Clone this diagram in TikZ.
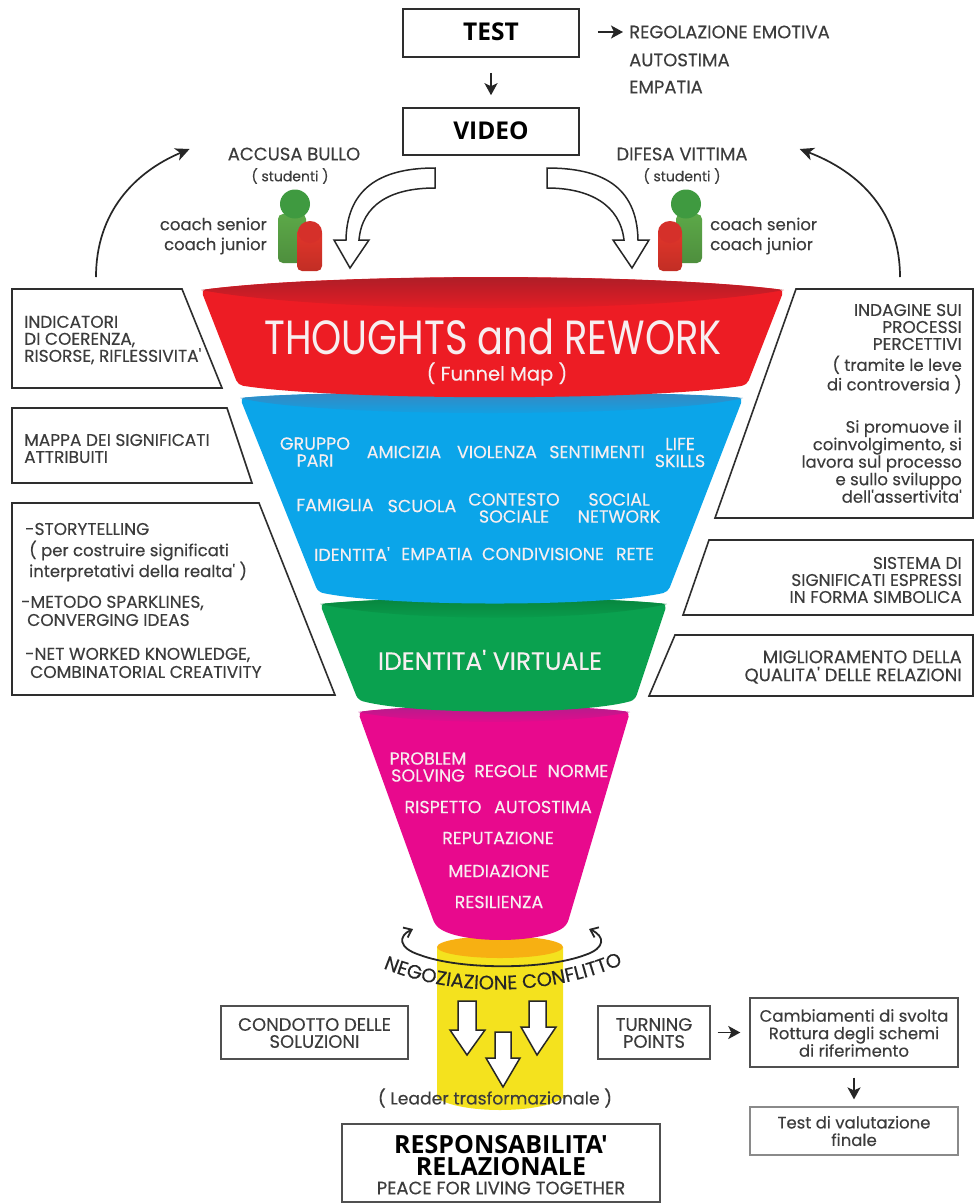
\documentclass[tikz,border=0pt]{standalone}
\usepackage{fontspec}
\usetikzlibrary{arrows.meta,decorations.text}
\setmainfont{Poppins}
\newfontfamily\nf[FakeBold=0.25]{Poppins}
\newfontfamily\cond[FakeStretch=0.8]{Poppins}
\newfontfamily\boldf{Open Sans}
\newcommand\fs[2]{\fontsize{#1}{#2}\selectfont}
\definecolor{ink}{HTML}{3C3C3C}
\definecolor{inkb}{HTML}{2E2E2E}
\definecolor{fred}{HTML}{ED1C24}
\definecolor{fredd}{HTML}{A81E28}
\definecolor{fblue}{HTML}{0BA5E9}
\definecolor{fblued}{HTML}{3A86BE}
\definecolor{fgreen}{HTML}{0AA14F}
\definecolor{fgreend}{HTML}{07823C}
\definecolor{fmag}{HTML}{E8098D}
\definecolor{fmagd}{HTML}{B01E8C}
\definecolor{fyel}{HTML}{F4E21E}
\definecolor{forg}{HTML}{F7B012}
\definecolor{soft}{HTML}{F7EEF0}
\definecolor{pgreen}{HTML}{5CA848}
\definecolor{pgreenh}{HTML}{3F9A40}
\definecolor{pred}{HTML}{E4362B}
\definecolor{predh}{HTML}{D5302A}
\newcommand\person[9]{% head cx, cy, rx, ry, body left, right, top, bottom, name
  \shade[top color=#9,bottom color=#9!85!black,rounded corners=5pt]
    (#5,#8) -- (#5,#7) -- (#6,#7) -- (#6,#8) -- cycle;
  \fill[#9h] (#1,#2) ellipse ({#3} and {#4});
}
\tikzset{
  x=1pt,y=-1pt,
  boxed/.style={draw=inkb,line width=1.6pt,fill=white},
  sboxed/.style={draw=ink!90,line width=1.4pt,fill=white},
  lboxed/.style={draw=ink!60,line width=1.2pt,fill=white},
  rect/.style={rectangle,boxed,inner sep=0pt,minimum width=#1},
  lab/.style={inner sep=0pt,text=ink,font=\nf\fs{17}{17}},
  labL/.style={lab,anchor=west,align=left},
  labR/.style={lab,anchor=east,align=right},
  labC/.style={lab,anchor=center,align=center},
  head/.style={font=\nf\fs{18}{18}},
  low/.style={font=\nf\fs{16.5}{17.5}},
  fun/.style={inner sep=0pt,text=soft,align=center,font=\nf\fs{17.5}{17}},
  big/.style={inner sep=0pt,text=black,font=\boldf\bfseries\fs{24.5}{24}},
  arr/.style={-{Stealth[length=12pt,width=13pt,inset=3pt]},line width=1.8pt,draw=black!85},
  thin arr/.style={-{Stealth[length=14pt,width=13pt,inset=4pt]},line width=1.7pt,draw=black!85},
  block/.style={draw=black!85,line width=1.5pt,fill=white,line join=miter},
}
\begin{document}
\begin{tikzpicture}
\useasboundingbox (0,0) rectangle (979,1203);
\fill[white] (0,0) rectangle (979,1203);

% ---- boxes at top
\node[rect=176pt,minimum height=48pt] (test) at (491,33) {};
\node[big] at (491,32) {TEST};
\node[rect=176pt,minimum height=47pt] (video) at (491,131.5) {};
\node[big] at (491,131) {VIDEO};
\draw[arr] ([yshift=-15pt]test.south) -- ([yshift=12pt]video.north);
\node[labL,head] (emo) at (629,32) {REGOLAZIONE EMOTIVA};
\node[labL,head] (auto) at (629,60) {AUTOSTIMA};
\node[labL,head] (emp) at (629,87) {EMPATIA};
\draw[arr] ([xshift=18pt]test.east|-emo) -- ([xshift=-6pt]emo.west);

% ---- roles
\node[labC,head] (accusa) at (294,154) {ACCUSA BULLO};
\node[labC,font=\nf\fs{14}{14}] (stuL) at (290,176) {( studenti )};
\node[labC,head] (difesa) at (682,154) {DIFESA VITTIMA};
\node[labC,font=\nf\fs{14}{14}] (stuR) at (682,176) {( studenti )};
\node[labR,low] (csL) at (267,224) {coach senior};
\node[labR,low] (cjL) at (267,246) {coach junior};
\node[labL,low] (csR) at (710,224) {coach senior};
\node[labL,low] (cjR) at (710,246) {coach junior};

% ---- people
\person{295}{204}{15}{14.5}{278}{306}{214}{263}{pgreen}
\person{310}{232}{12}{11}{297}{322}{228}{271}{pred}
\person{686}{204}{15}{14.5}{676}{702}{214}{263}{pgreen}
\person{670}{232}{12}{11}{658}{682}{228}{271}{pred}

% ---- curved block arrows from video
\draw[block] (435,168) .. controls (385,168) and (347,185) .. (346,240) -- (334,240) -- (350,268) -- (369,240) -- (359,240) .. controls (362,205) and (390,188) .. (435,188) -- cycle;
\draw[block] (547,168) .. controls (600,168) and (637,185) .. (638,240) -- (649,240) -- (632,268) -- (613,240) -- (624,240) .. controls (620,205) and (590,188) .. (547,188) -- cycle;

% ---- condotto (bottom, drawn first)
\fill[fyel] (437,947) -- (437,1098) .. controls (460,1114) and (540,1114) .. (563,1098) -- (563,947) -- cycle;
\fill[forg] (500,947) ellipse (63 and 11);

% ---- funnel
\fill[fmag,rounded corners=5pt] (358,712) .. controls (420,704) and (570,704) .. (630,712) -- (567,925) .. controls (540,944) and (460,944) .. (435,925) -- cycle;
\shade[top color=fmagd,bottom color=fmag] (358,712) .. controls (420,704) and (570,704) .. (630,712) .. controls (570,725) and (420,725) .. (358,712) -- cycle;
\fill[fgreen,rounded corners=5pt] (320,604) .. controls (400,596) and (590,596) .. (667,604) -- (635,700) .. controls (580,715) and (415,715) .. (358,700) -- cycle;
\shade[top color=fgreend,bottom color=fgreen] (320,604) .. controls (400,596) and (590,596) .. (667,604) .. controls (590,622) and (400,622) .. (320,604) -- cycle;
\fill[fblue,rounded corners=5pt] (240,398) .. controls (320,390) and (660,390) .. (743,398) -- (668,592) .. controls (600,607) and (390,607) .. (318,592) -- cycle;
\shade[top color=fblued,bottom color=fblue] (240,398) .. controls (320,390) and (660,390) .. (743,398) .. controls (660,418) and (320,418) .. (240,398) -- cycle;
\fill[fred,rounded corners=5pt] (201,290) .. controls (330,273) and (650,273) .. (784,290) -- (747,385) .. controls (650,401) and (340,401) .. (238,385) -- cycle;
\shade[top color=fredd,bottom color=fred] (201,290) .. controls (330,273) and (650,273) .. (784,290) .. controls (650,314) and (330,314) .. (201,290) -- cycle;

% ---- funnel labels
\node[fun,font=\cond\fs{48}{48}] (tr) at (493,337) {THOUGHTS and REWORK};
\node[fun,font=\nf\fs{19.5}{20}] (fm) at (497,374) {( Funnel Map )};
\node[fun] (a1) at (315,452) {GRUPPO\\PARI};
\node[fun] (a2) at (404,452) {AMICIZIA};
\node[fun] (a3) at (497,452) {VIOLENZA};
\node[fun] (a4) at (597,452) {SENTIMENTI};
\node[fun] (a5) at (680,452.5) {LIFE\\SKILLS};
\node[fun] (b1) at (335,505) {FAMIGLIA};
\node[fun] (b2) at (422,506) {SCUOLA};
\node[fun] (b3) at (514,508) {CONTESTO\\SOCIALE};
\node[fun] (b4) at (619,508) {SOCIAL\\NETWORK};
\node[fun] (c1) at (352,554) {IDENTITA'};
\node[fun] (c2) at (437,554) {EMPATIA};
\node[fun] (c3) at (543,554) {CONDIVISIONE};
\node[fun] (c4) at (635,554) {RETE};
\node[fun,font=\nf\fs{25}{26}] (iv) at (490,660) {IDENTITA' VIRTUALE};
\node[fun] (m1) at (428,767) {PROBLEM\\SOLVING};
\node[fun] (m2) at (506,771) {REGOLE};
\node[fun] (m3) at (578,771) {NORME};
\node[fun] (m4) at (443,807) {RISPETTO};
\node[fun] (m5) at (543,807) {AUTOSTIMA};
\node[fun] (m6) at (498,838) {REPUTAZIONE};
\node[fun] (m7) at (499,871) {MEDIAZIONE};
\node[fun] (m8) at (499,902) {RESILIENZA};

% ---- negoziazione
\draw[line width=1.8pt,black!85,{Straight Barb[length=7pt,width=11pt]}-{Straight Barb[length=7pt,width=11pt]}] (413,929) .. controls (398,936) and (398,948) .. (420,955) .. controls (460,970) and (545,970) .. (585,955) .. controls (606,948) and (605,936) .. (589,929);
\path[decorate,decoration={text along path,text align=center,text={|\nf\fs{19.5}{19}\color{black!85}|NEGOZIAZIONE CONFLITTO}}] (378,966) .. controls (450,998) and (550,998) .. (628,962);

% ---- block arrows in condotto
\draw[block] (458,1001) -- (476,1001) -- (476,1030) -- (485,1030) -- (467,1055) -- (450,1030) -- (458,1030) -- cycle;
\draw[block] (529,1001) -- (546,1001) -- (546,1027) -- (556,1027) -- (537,1055) -- (521,1027) -- (529,1027) -- cycle;
\draw[block] (495,1032) -- (511,1032) -- (511,1058) -- (520,1058) -- (503,1087) -- (486,1058) -- (495,1058) -- cycle;
\node[labC,font=\nf\fs{17.2}{18}] (lead) at (495,1098) {( Leader trasformazionale )};

% ---- lower boxes
\node[rect=187pt,sboxed,minimum height=53pt] (cond) at (314.5,1032.5) {};
\node[labC,head,font=\nf\fs{18}{17}] at (314.5,1033) {CONDOTTO DELLE\\SOLUZIONI};
\node[rect=112pt,sboxed,minimum height=53pt] (turn) at (654,1032.5) {};
\node[labC,font=\nf\fs{18}{17}] at (654,1033) {TURNING\\POINTS};
\node[rect=208pt,sboxed,minimum height=69pt] (camb) at (854,1032.5) {};
\node[labC,low] at (854,1033) {Cambiamenti di svolta\\Rottura degli schemi\\di riferimento};
\node[rect=208pt,lboxed,minimum height=48pt] (tval) at (854,1131) {};
\node[labC,low] at (854,1131) {Test di valutazione\\finale};
\node[rect=318pt,sboxed,minimum height=78pt] (resp) at (501,1163) {};
\node[big,font=\boldf\bfseries\fs{25}{22},align=center] at (501,1156) {RESPONSABILITA'\\RELAZIONALE};
\node[labC,head] at (501,1188) {PEACE FOR LIVING TOGETHER};
\draw[arr] ([xshift=7pt]turn.east) -- ([xshift=-9pt]camb.west|-turn.east);
\draw[arr] ([yshift=-10pt]camb.south) -- ([yshift=7pt]tval.north);

% ---- side trapezia, left
\draw[boxed] (12,289) -- (182,289) -- (222,388) -- (12,388) -- cycle;
\draw[boxed] (12,408) -- (227,408) -- (252,483) -- (12,483) -- cycle;
\draw[boxed] (12,503) -- (259,503) -- (335,695) -- (12,695) -- cycle;
\node[labL] (l1) at (24,340) {INDICATORI\\DI COERENZA,\\RISORSE, RIFLESSIVITA'};
\node[labL] (l2) at (24,448.5) {MAPPA DEI SIGNIFICATI\\ATTRIBUITI};
\node[labL] at (25,529) {-STORYTELLING};
\node[labL,low] at (29,561) {( per costruire significati\\interpretativi della realta' )};
\node[labL] at (21,603) {-METODO SPARKLINES,};
\node[labL] at (27,620) {CONVERGING IDEAS};
\node[labL] at (25,655) {-NET WORKED KNOWLEDGE,};
\node[labL] at (30,672) {COMBINATORIAL CREATIVITY};

% ---- side trapezia, right
\draw[boxed] (796,289) -- (973,289) -- (973,518) -- (715,518) -- cycle;
\draw[boxed] (709,540) -- (973,540) -- (973,615) -- (683,615) -- cycle;
\draw[boxed] (675,635) -- (973,635) -- (973,696) -- (649,696) -- cycle;
\node[labR] (r1) at (962,327) {INDAGINE SUI\\PROCESSI\\PERCETTIVI};
\node[labR,low] at (962,374.5) {( tramite le leve\\di controversia )};
\node[labR,low] at (962,461.5) {Si promuove il\\coinvolgimento, si\\lavora sul processo\\e sullo sviluppo\\dell'assertivita'};
\node[labR] (r2) at (962,580) {SISTEMA DI\\SIGNIFICATI ESPRESSI\\IN FORMA SIMBOLICA};
\node[labR,font=\nf\fs{18}{18}] (r3) at (962,667) {MIGLIORAMENTO DELLA\\QUALITA' DELLE RELAZIONI};

% ---- return arrows
\coordinate (rl) at (96,277);
\coordinate (rr) at (900,277);
\draw[thin arr] (rl) .. controls (96,212) and (135,172) .. ([xshift=-38pt,yshift=5pt]accusa.west);
\draw[thin arr] (rr) .. controls (900,212) and (860,172) .. ([xshift=52pt,yshift=5pt]difesa.east);
\end{tikzpicture}
\end{document}
